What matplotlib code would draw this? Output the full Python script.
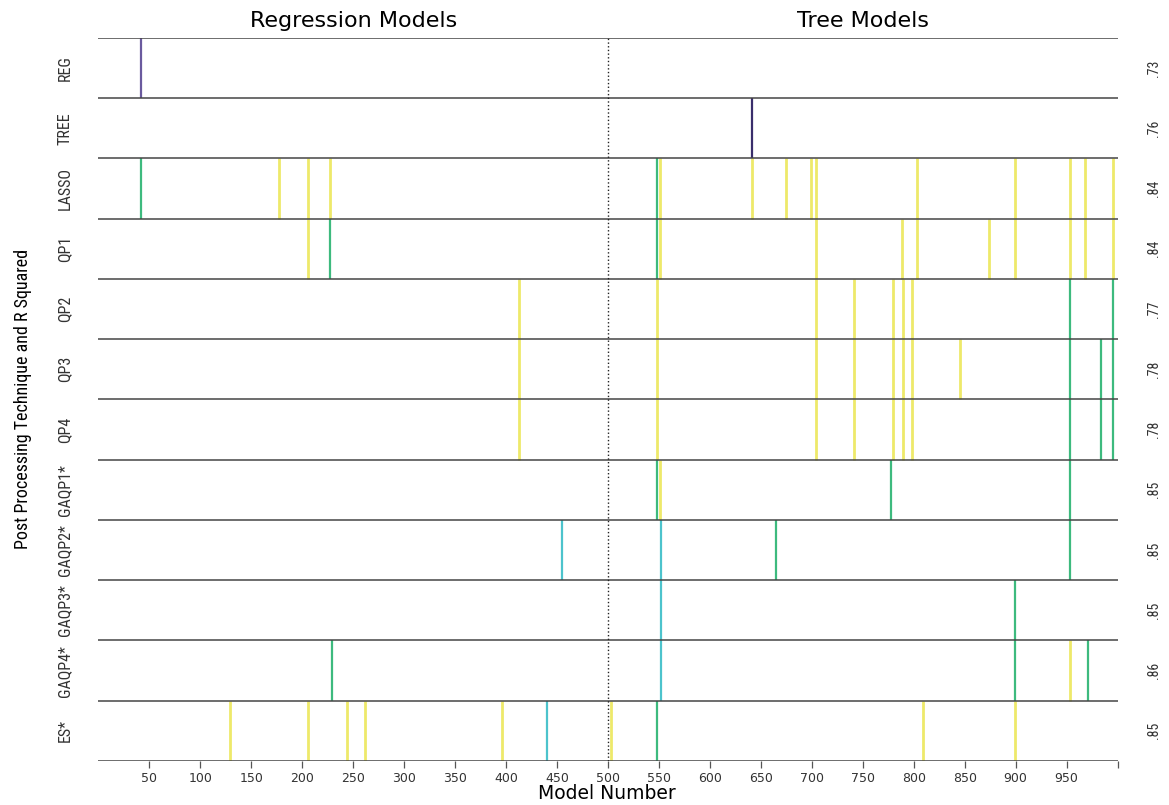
import matplotlib
matplotlib.use('Agg')
import matplotlib.pyplot as plt
from matplotlib import font_manager

# row names (top to bottom) and r squared shown on the right
techniques = ['REG', 'TREE', 'LASSO', 'QP1', 'QP2', 'QP3', 'QP4',
              'GAQP1*', 'GAQP2*', 'GAQP3*', 'GAQP4*', 'ES*']
r_squared = ['.73', '.76', '.84', '.84', '.77', '.78', '.78',
             '.85', '.85', '.85', '.86', '.85']

# selected model numbers per row, with a colour key
# y = yellow, g = green, c = cyan, p = purple, n = dark purple
reg_lines = [(42, 'p')]
tree_lines = [(641, 'n')]
lasso_lines = [(42, 'g'), (177, 'y'), (206, 'y'), (227, 'y'), (548, 'g'), (551, 'y'),
               (641, 'y'), (675, 'y'), (699, 'y'), (704, 'y'), (803, 'y'), (899, 'y'),
               (953, 'y'), (968, 'y'), (996, 'y')]
qp1_lines = [(206, 'y'), (227, 'g'), (548, 'g'), (551, 'y'), (704, 'y'), (788, 'y'),
             (803, 'y'), (874, 'y'), (899, 'y'), (953, 'y'), (968, 'y'), (996, 'y')]
qp2_lines = [(413, 'y'), (548, 'y'), (704, 'y'), (741, 'y'), (780, 'y'), (789, 'y'),
             (798, 'y'), (953, 'g'), (996, 'g')]
qp3_lines = [(413, 'y'), (548, 'y'), (704, 'y'), (741, 'y'), (780, 'y'), (789, 'y'),
             (798, 'y'), (845, 'y'), (953, 'g'), (984, 'g'), (996, 'g')]
qp4_lines = [(413, 'y'), (548, 'y'), (704, 'y'), (741, 'y'), (780, 'y'), (789, 'y'),
             (798, 'y'), (953, 'g'), (984, 'g'), (996, 'g')]
gaqp1_lines = [(548, 'g'), (551, 'y'), (778, 'g'), (953, 'g')]
gaqp2_lines = [(455, 'c'), (552, 'c'), (665, 'g'), (953, 'g')]
gaqp3_lines = [(552, 'c'), (899, 'g')]
gaqp4_lines = [(229, 'g'), (552, 'c'), (899, 'g'), (953, 'y'), (971, 'g')]
es_lines = [(129, 'y'), (206, 'y'), (244, 'y'), (262, 'y'), (396, 'y'), (440, 'c'),
            (503, 'y'), (548, 'g'), (809, 'y'), (899, 'y')]

all_rows = [reg_lines, tree_lines, lasso_lines, qp1_lines, qp2_lines, qp3_lines,
            qp4_lines, gaqp1_lines, gaqp2_lines, gaqp3_lines, gaqp4_lines, es_lines]

colours = {'y': '#eee96a', 'g': '#3dba7e', 'c': '#4cc3cc',
           'p': '#6a5a9e', 'n': '#3a2e6c'}
widths = {'y': 2.0, 'g': 1.6, 'c': 1.6, 'p': 1.6, 'n': 1.6}

x_ticks = list(range(50, 1001, 50))
x_labels = [str(t) for t in range(50, 951, 50)] + ['']

# narrow font for the rotated labels if one is around
names = set(f.name for f in font_manager.fontManager.ttflist)
narrow = 'DejaVu Sans'
narrow_size = 1.0
for cand in ['Liberation Sans Narrow', 'Roboto Condensed', 'Open Sans Condensed']:
    if cand in names:
        narrow = cand
        break
if narrow == 'DejaVu Sans':
    narrow_size = 0.85

fig = plt.figure(figsize=(11.69, 8.05), dpi=100)
ax = fig.add_axes([0.0842, 0.0547, 0.8718, 0.8981])
n = len(techniques)
ax.set_xlim(0, 1000)
ax.set_ylim(0, n)

# vertical model lines, yellow first so the others sit on top
for order in ['y', 'g', 'c', 'p', 'n']:
    for i, row in enumerate(all_rows):
        top = n - i
        for model, key in row:
            if key == order:
                ax.vlines(model, top - 1, top, color=colours[key], lw=widths[key], zorder=2)

# row separators
for i in range(n + 1):
    ax.hlines(i, 0, 1000, color='#454545', lw=1.1, zorder=3)

# regression / tree split
ax.vlines(500, 0, n, color='#222222', lw=1.0, linestyles=':', zorder=4)

for i in range(n):
    yc = n - i - 0.5
    ax.text(-0.033, yc, techniques[i], transform=ax.get_yaxis_transform(),
            rotation=90, ha='center', va='center', fontsize=11.5 * narrow_size,
            family=narrow, color='#333333')
    ax.text(1.036, yc, r_squared[i], transform=ax.get_yaxis_transform(),
            rotation=90, ha='center', va='center', fontsize=10 * narrow_size,
            family=narrow, color='#333333')

for s in ['left', 'right', 'top', 'bottom']:
    ax.spines[s].set_visible(False)
ax.set_yticks([])
ax.set_xticks(x_ticks)
ax.set_xticklabels(x_labels, fontsize=9, color='#333333')
ax.tick_params(axis='x', length=5, width=0.9, color='#555555', pad=3)

ax.text(250, n + 0.28, 'Regression Models', ha='center', va='center', fontsize=16)
ax.text(750, n + 0.28, 'Tree Models', ha='center', va='center', fontsize=16)
fig.text(0.519, 0.003, 'Model Number', ha='center', va='bottom', fontsize=13.5)
fig.text(0.02, 0.505, 'Post Processing Technique and R Squared', rotation=90,
         ha='center', va='center', fontsize=13 * narrow_size, family=narrow)

fig.savefig('out.png', dpi=100)
